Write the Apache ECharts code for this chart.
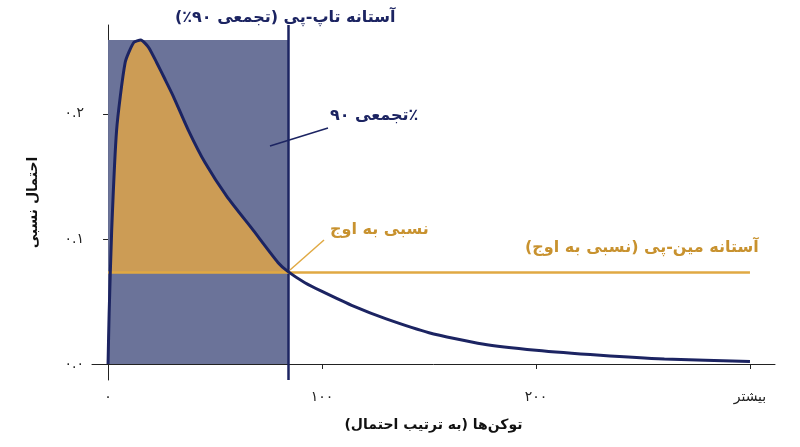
<!DOCTYPE html>
<html><head><meta charset="utf-8">
<script src="https://cdn.jsdelivr.net/npm/echarts@6/dist/echarts.min.js"></script>
<style>html,body{margin:0;background:#fff}#c{width:800px;height:447px}</style>
</head><body><div id="c"></div>
<script>
const curveX = [0, 0.5, 1.7, 4, 8, 12, 15.3, 19, 22.7, 26.5, 30.5, 37.5, 45.3, 55.5, 67.8, 79.5, 84.3, 92, 100, 115, 130, 150, 175, 200, 230, 260, 300];
const curveY = [0, 0.04, 0.107, 0.187, 0.241, 0.257, 0.259, 0.253, 0.241, 0.228, 0.214, 0.187, 0.161, 0.134, 0.107, 0.081, 0.0736, 0.065, 0.058, 0.046, 0.036, 0.025, 0.016, 0.011, 0.007, 0.004, 0.002];
const topP = 84.3;
const minP = 0.0736;
const peak = 0.259;
const xTicks = [0, 100, 200, 300];
const xTickLabels = ['۰', '۱۰۰', '۲۰۰', 'بیشتر'];
const yTicks = [0, 0.1, 0.2];
const yTickLabels = ['۰.۰', '۰.۱', '۰.۲'];

const navy = '#1c2462', orange = '#e0a943';
const font = 'DejaVu Sans';
const inside = curveX.map((x, i) => [x, curveY[i]]).filter(p => p[0] <= topP);

const chart = echarts.init(document.getElementById('c'));
chart.setOption({
  animation: false,
  grid: {left: 92, right: 25, top: 25, bottom: 67},
  xAxis: {type: 'value', min: -7.5, max: 311.7,
    axisLine: {show: true, lineStyle: {color: '#222'}}, splitLine: {show: false},
    axisTick: {show: true, customValues: xTicks, lineStyle: {color: '#222'}},
    axisLabel: {customValues: xTicks, formatter: v => xTickLabels[xTicks.indexOf(v)] || '', fontFamily: font, fontSize: 14, color: '#222', margin: 10},
    name: 'توکن‌ها (به ترتیب احتمال)', nameLocation: 'middle', nameGap: 38,
    nameTextStyle: {fontFamily: font, fontWeight: 'bold', fontSize: 14, color: '#111'}},
  yAxis: {type: 'value', min: -0.0128, max: 0.271,
    axisLine: {show: true, lineStyle: {color: '#222'}}, splitLine: {show: false},
    axisTick: {show: true, customValues: yTicks, lineStyle: {color: '#222'}},
    axisLabel: {customValues: yTicks, formatter: v => { const i = yTicks.findIndex(t => Math.abs(t - v) < 1e-9); return i >= 0 ? yTickLabels[i] : ''; }, fontFamily: font, fontSize: 14, color: '#222'},
    name: 'احتمال نسبی', nameLocation: 'middle', nameGap: 52,
    nameTextStyle: {fontFamily: font, fontWeight: 'bold', fontSize: 14, color: '#111'}},
  series: [
    {type: 'custom', silent: true, z: 1, data: [[0]],
      renderItem: (params, api) => {
        const a = api.coord([0, 0]), b = api.coord([topP, peak]);
        const poly = inside.map(p => api.coord([p[0], Math.max(p[1], minP)]));
        poly.push(api.coord([topP, minP]), api.coord([0, minP]));
        return {type: 'group', children: [
          {type: 'rect', shape: {x: a[0], y: b[1], width: b[0] - a[0], height: a[1] - b[1]}, style: {fill: '#6b7399'}},
          {type: 'polygon', shape: {points: poly, smooth: 0.2}, style: {fill: '#cc9c55'}}
        ]};
      }},
    {type: 'line', data: curveX.map((x, i) => [x, curveY[i]]), symbol: 'none', smooth: 0.2, lineStyle: {color: navy, width: 3}, z: 5,
      markLine: {silent: true, symbol: 'none', label: {show: false}, data: [
        [{coord: [topP, -0.0128], lineStyle: {color: navy, width: 2.5, type: 'solid'}}, {coord: [topP, 0.271]}],
        [{coord: [0, minP], lineStyle: {color: orange, width: 2.5, type: 'solid'}}, {coord: [300, minP]}]
      ]}}
  ],
  graphic: {elements: [
    {id: 't1', type: 'text', z: 100, left: 175, top: 10, style: {text: 'آستانه تاپ-پی (تجمعی ۹۰٪)', font: 'bold 16px DejaVu Sans', fill: navy}},
    {id: 't2', type: 'text', z: 100, left: 330, top: 108, style: {text: 'تجمعی ۹۰٪', font: 'bold 16px DejaVu Sans', fill: navy}},
    {id: 'l1', type: 'line', z: 100, shape: {x1: 270, y1: 146, x2: 328, y2: 128}, style: {stroke: navy, lineWidth: 1.5}},
    {id: 't3', type: 'text', z: 100, left: 330, top: 222, style: {text: 'نسبی به اوج', font: 'bold 16px DejaVu Sans', fill: '#c8922f'}},
    {id: 'l2', type: 'line', z: 100, shape: {x1: 290, y1: 270, x2: 324, y2: 240}, style: {stroke: orange, lineWidth: 1.5}},
    {id: 't4', type: 'text', z: 100, left: 525, top: 240, style: {text: 'آستانه مین-پی (نسبی به اوج)', font: 'bold 16px DejaVu Sans', fill: '#c8922f'}}
  ]}
});
</script></body></html>
